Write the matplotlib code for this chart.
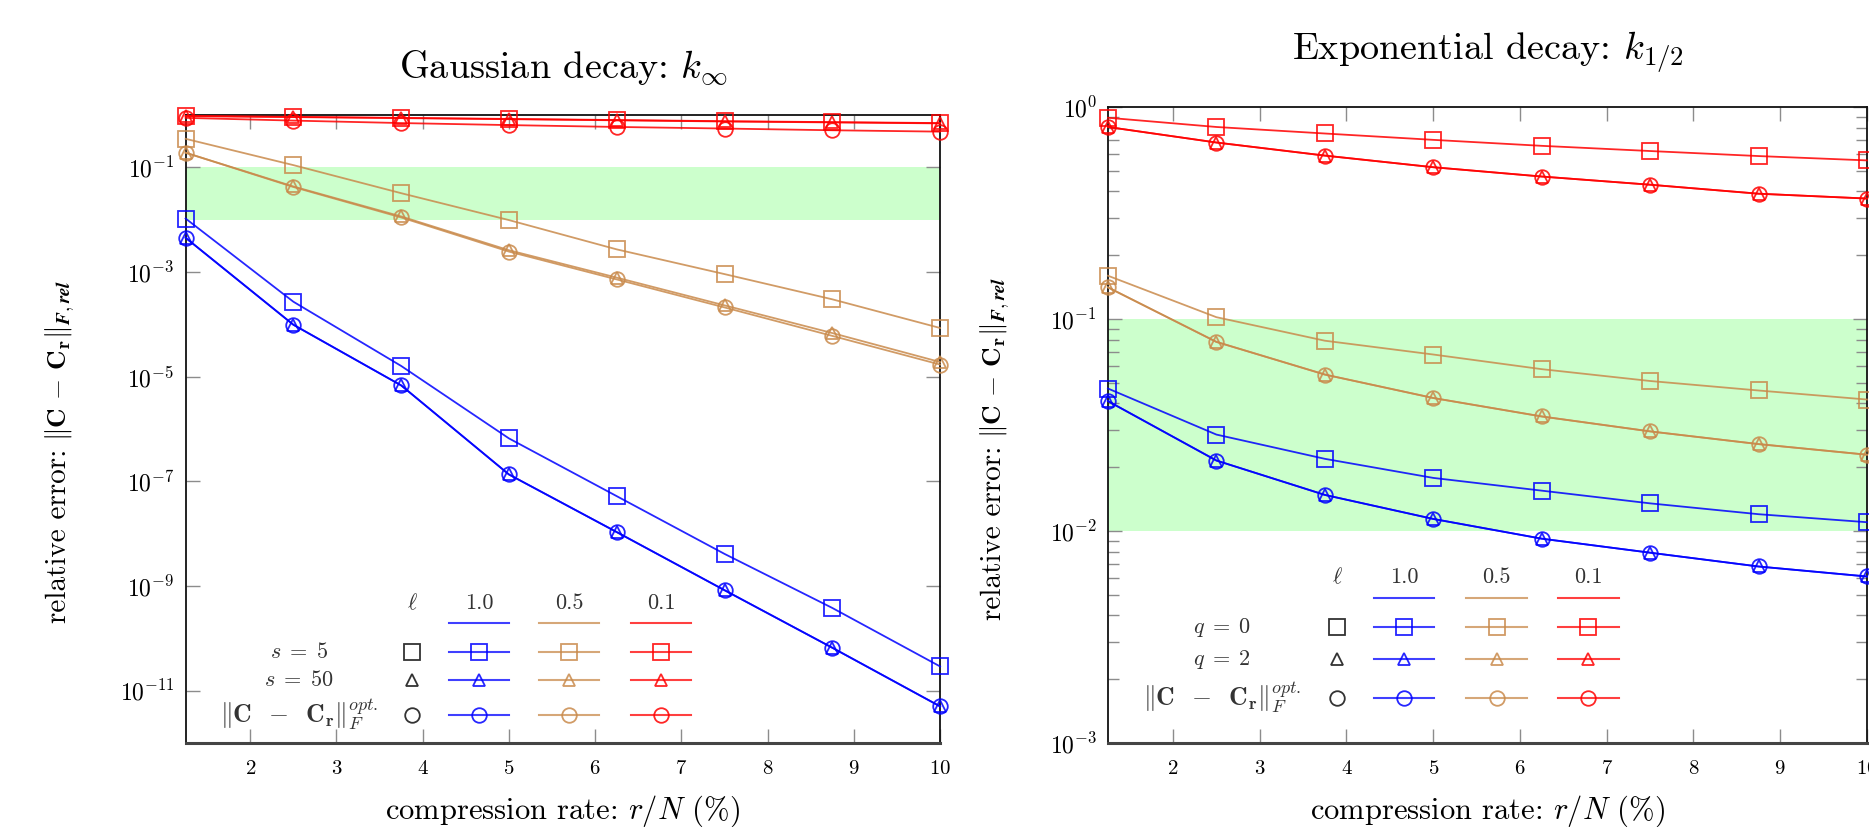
import matplotlib
matplotlib.use("Agg")
import matplotlib.pyplot as plt
from matplotlib.ticker import NullLocator, LogLocator, NullFormatter

plt.rcParams["font.family"] = "cmr10"
plt.rcParams["mathtext.fontset"] = "cm"
plt.rcParams["axes.formatter.use_mathtext"] = True
plt.rcParams["axes.unicode_minus"] = True

# compression rate r/N in %
rate = [1.25, 2.5, 3.75, 5.0, 6.25, 7.5, 8.75, 10.0]
ell_labels = ["1.0", "0.5", "0.1"]

# Gaussian decay k_inf: s = 5 (square), s = 50 (triangle), optimal (circle)
gauss_s5_l10 = [1.05e-2, 2.7e-4, 1.6e-5, 6.6e-7, 5.2e-8, 4.1e-9, 3.8e-10, 2.9e-11]
gauss_s50_l10 = [4.5e-3, 9.8e-5, 6.8e-6, 1.35e-7, 1.07e-8, 8.3e-10, 6.6e-11, 5.0e-12]
gauss_opt_l10 = [4.5e-3, 9.8e-5, 6.8e-6, 1.35e-7, 1.07e-8, 8.3e-10, 6.6e-11, 5.0e-12]
gauss_s5_l05 = [0.35, 0.11, 0.032, 9.8e-3, 2.7e-3, 9.1e-4, 3.0e-4, 8.5e-5]
gauss_s50_l05 = [0.19, 0.043, 0.0115, 2.6e-3, 7.8e-4, 2.3e-4, 6.8e-5, 1.9e-5]
gauss_opt_l05 = [0.19, 0.042, 0.011, 2.45e-3, 7.2e-4, 2.1e-4, 6.0e-5, 1.7e-5]
gauss_s5_l01 = [0.96, 0.92, 0.88, 0.84, 0.80, 0.76, 0.73, 0.70]
gauss_s50_l01 = [0.95, 0.91, 0.87, 0.83, 0.79, 0.75, 0.72, 0.69]
gauss_opt_l01 = [0.88, 0.78, 0.70, 0.64, 0.59, 0.55, 0.51, 0.48]

# Exponential decay k_1/2: q = 0 (square), q = 2 (triangle), optimal (circle)
expo_q0_l10 = [0.047, 0.0285, 0.0219, 0.0178, 0.0155, 0.0135, 0.0120, 0.0110]
expo_q2_l10 = [0.041, 0.0215, 0.0148, 0.0114, 0.0092, 0.0079, 0.0068, 0.0061]
expo_opt_l10 = [0.041, 0.0215, 0.0148, 0.0114, 0.0092, 0.0079, 0.0068, 0.0061]
expo_q0_l05 = [0.16, 0.102, 0.079, 0.068, 0.058, 0.051, 0.046, 0.0417]
expo_q2_l05 = [0.141, 0.078, 0.0547, 0.0424, 0.0347, 0.0295, 0.0257, 0.0229]
expo_opt_l05 = [0.141, 0.078, 0.0547, 0.0424, 0.0347, 0.0295, 0.0257, 0.0229]
expo_q0_l01 = [0.89, 0.805, 0.75, 0.70, 0.656, 0.62, 0.587, 0.56]
expo_q2_l01 = [0.805, 0.68, 0.59, 0.52, 0.47, 0.43, 0.39, 0.37]
expo_opt_l01 = [0.805, 0.68, 0.59, 0.52, 0.47, 0.43, 0.39, 0.37]

COLORS = ["#0000ff", "#c98a4b", "#ff0000"]
MARKERS = [("s", 11), ("^", 8), ("o", 10.5)]
TICK_GREY = "#8c8c8c"
TEXT_GREY = "#333333"

OPT_LABEL = r"$\|\mathbf{C}\;\;-\;\;\mathbf{C}_{\mathbf{r}}\|_F^{opt.}$"
YLABEL_TXT = "relative error:"
YLABEL_MATH = r"$\|\mathbf{C}\,-\,\mathbf{C}_{\mathbf{r}}\|_{\boldsymbol{F,rel}}$"
XLABEL = r"compression rate: $r/N$ (%)"


def draw_panel(ax, series, title, row_labels, leg):
    """series: list over ell of (square, triangle, circle) lists."""
    ax.axhspan(1e-2, 1e-1, color="#ccffcc", lw=0, zorder=0)
    for color, trio in zip(COLORS, series):
        for (mk, ms), vals in zip(MARKERS, trio):
            ax.plot(rate, vals, color=color, marker=mk, markersize=ms,
                    markerfacecolor="none", markeredgewidth=1.3,
                    linewidth=1.3, alpha=0.85, clip_on=False, zorder=3)
    ax.set_yscale("log")
    ax.set_xlim(1.25, 10)
    ax.set_xticks(range(2, 11))
    ax.tick_params(axis="both", which="both", direction="in", top=True,
                   right=True, color=TICK_GREY)
    ax.tick_params(axis="x", pad=12, labelsize=15)
    ax.tick_params(axis="y", pad=8, labelsize=17)
    ax.tick_params(which="major", length=10, width=1.0)
    ax.tick_params(which="minor", length=8, width=1.0)
    for side in ["left", "right", "top"]:
        ax.spines[side].set_linewidth(1.3)
        ax.spines[side].set_color("#111111")
    ax.spines["bottom"].set_linewidth(2.2)
    ax.spines["bottom"].set_color("#444444")

    ax.text(0.5, leg["title_y"], title, transform=ax.transAxes,
            ha="center", va="center", fontsize=27.5)
    ax.set_xlabel(XLABEL, fontsize=22)
    ax.xaxis.set_label_coords(0.5, leg["xlab_y"])

    # y label: plain words, then the math part
    t1 = ax.text(leg["ylab_x"], leg["ylab_y"], YLABEL_TXT, rotation=90,
                 transform=ax.transAxes, ha="center", va="bottom",
                 fontsize=21)
    r = ax.figure.canvas.get_renderer()
    bb = t1.get_window_extent(r)
    _, y_top = ax.transAxes.inverted().transform((bb.x0, bb.y1 + 8))
    ax.text(leg["ylab_x"] + 0.002, y_top, YLABEL_MATH, rotation=90,
            transform=ax.transAxes, ha="center", va="bottom", fontsize=19.5)

    # matrix style legend
    tr = ax.transAxes
    ys = leg["rows"]
    ax.text(leg["sym_x"], leg["head_y"], r"$\ell$", transform=tr,
            ha="center", va="center", fontsize=16, color=TEXT_GREY)
    for cx, lab, color in zip(leg["cols"], ell_labels, COLORS):
        ax.text(cx, leg["head_y"], lab, transform=tr, ha="center",
                va="center", fontsize=16, color=TEXT_GREY)
        ax.plot([cx - leg["hw"], cx + leg["hw"]], [leg["line_y"]] * 2,
                transform=tr, color=color, lw=1.5, alpha=0.75, clip_on=False)
        for y, (mk, ms) in zip(ys, MARKERS):
            ax.plot([cx - leg["hw"], cx + leg["hw"]], [y, y], transform=tr,
                    color=color, lw=1.5, alpha=0.75, clip_on=False)
            ax.plot([cx], [y], transform=tr, color=color, marker=mk,
                    markersize=ms, markerfacecolor="none",
                    markeredgewidth=1.3, alpha=0.85, clip_on=False)
    for i, (y, (mk, ms), lab) in enumerate(zip(ys, MARKERS, row_labels)):
        ax.plot([leg["sym_x"]], [y], transform=tr, color=TEXT_GREY, marker=mk,
                markersize=ms, markerfacecolor="none", markeredgewidth=1.3,
                clip_on=False)
        ax.text(leg["lab_x"], y, lab, transform=tr, ha="center",
                va="center", fontsize=16 if i < 2 else 18.5, color=TEXT_GREY)


fig = plt.figure(figsize=(18.69, 8.27), dpi=100)
ax1 = fig.add_axes([0.0993, 0.1016, 0.4037, 0.7594])
ax2 = fig.add_axes([0.5928, 0.1016, 0.4061, 0.7690])

draw_panel(
    ax1,
    [(gauss_s5_l10, gauss_s50_l10, gauss_opt_l10),
     (gauss_s5_l05, gauss_s50_l05, gauss_opt_l05),
     (gauss_s5_l01, gauss_s50_l01, gauss_opt_l01)],
    r"Gaussian decay: $k_\infty$",
    [r"$s\;=\;5$", r"$s\;=\;50$", OPT_LABEL],
    dict(title_y=1.075, xlab_y=-0.08, ylab_x=-0.168, ylab_y=0.191,
         sym_x=0.300, cols=[0.389, 0.508, 0.630], hw=0.040, lab_x=0.150,
         head_y=0.223, line_y=0.191, rows=[0.145, 0.100, 0.045]),
)
ax1.set_ylim(1e-12, 1)
ax1.set_yticks([1e-1, 1e-3, 1e-5, 1e-7, 1e-9, 1e-11])
ax1.yaxis.set_minor_locator(NullLocator())

draw_panel(
    ax2,
    [(expo_q0_l10, expo_q2_l10, expo_opt_l10),
     (expo_q0_l05, expo_q2_l05, expo_opt_l05),
     (expo_q0_l01, expo_q2_l01, expo_opt_l01)],
    r"Exponential decay: $k_{1/2}$",
    [r"$q\;=\;0$", r"$q\;=\;2$", OPT_LABEL],
    dict(title_y=1.086, xlab_y=-0.079, ylab_x=-0.151, ylab_y=0.193,
         sym_x=0.302, cols=[0.390, 0.512, 0.633], hw=0.040, lab_x=0.150,
         head_y=0.261, line_y=0.228, rows=[0.182, 0.132, 0.071]),
)
ax2.set_ylim(1e-3, 1)
ax2.set_yticks([1e-3, 1e-2, 1e-1, 1e0])
ax2.yaxis.set_minor_locator(LogLocator(base=10, subs=range(2, 10)))
ax2.yaxis.set_minor_formatter(NullFormatter())

fig.savefig("out.png", dpi=100, facecolor="white")
